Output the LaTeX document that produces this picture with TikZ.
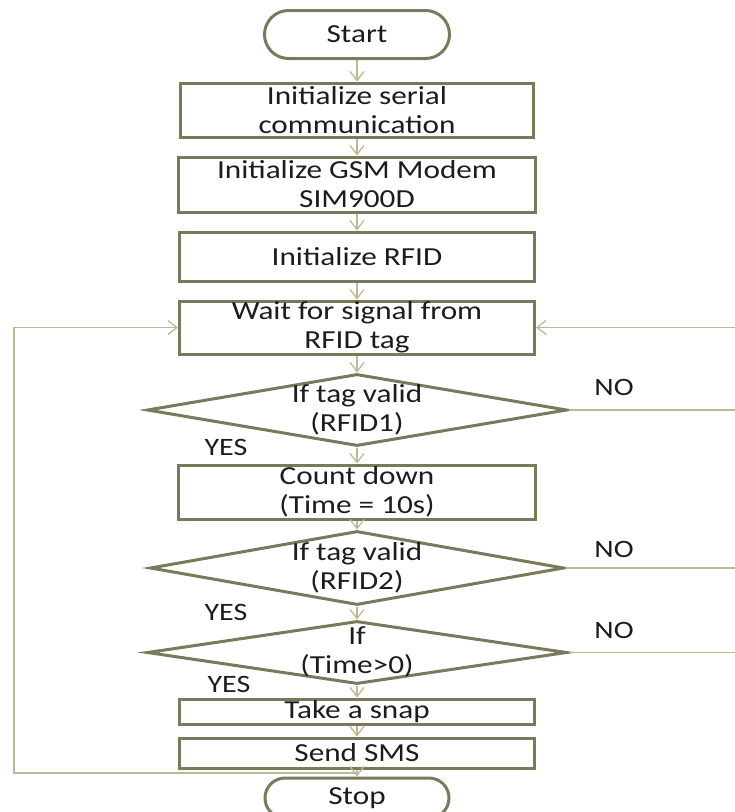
\documentclass[tikz,border=0pt]{standalone}
\usepackage{fontspec}
\setmainfont{Carlito}[FakeStretch=1.2]
\usepackage{tikz}
\usetikzlibrary{shapes.geometric,shapes.misc,arrows.meta}
\definecolor{boxline}{RGB}{122,121,92}
\definecolor{flowline}{RGB}{188,185,150}
\definecolor{txtgray}{RGB}{28,28,28}
\tikzset{
  proc/.style={draw=boxline,line width=3pt,rectangle,inner sep=0pt,align=center,
    text=txtgray,font=\fontsize{26}{29}\selectfont},
  term/.style={draw=boxline,line width=3pt,rounded rectangle,inner sep=0pt,
    text=txtgray,font=\fontsize{26}{29}\selectfont},
  decis/.style={draw=boxline,line width=3pt,diamond,inner sep=0pt},
  dtext/.style={inner sep=0pt,align=center,text=txtgray,font=\fontsize{26}{29}\selectfont},
  flow/.style={draw=flowline,line width=1.3pt,-{Straight Barb[length=9pt,width=14pt]}},
  flowplain/.style={draw=flowline,line width=1.6pt},
  ans/.style={inner sep=0pt,text=txtgray,font=\fontsize{25}{27}\selectfont}
}

\begin{document}
\begin{tikzpicture}[x=1pt,y=-1pt]
\useasboundingbox (0,0) rectangle (735,812);

% boxes
\node[term,minimum width=185pt,minimum height=48pt] (start) at (357,34.5) {Start};
\node[proc,minimum width=353pt,minimum height=54pt] (serial) at (357,110) {Initialize serial\\communication};
\node[proc,minimum width=357pt,minimum height=55pt] (gsm) at (357,184.5) {Initialize GSM Modem\\SIM900D};
\node[proc,minimum width=355pt,minimum height=49pt] (rfid) at (357,256.5) {Initialize RFID};
\node[proc,minimum width=355pt,minimum height=53pt] (wait) at (357,327.5) {Wait for signal from\\RFID tag};
\node[decis,minimum width=420pt,minimum height=72pt] (valid1) at (357,410) {};
\node[dtext] (valid1txt) at (valid1) {If tag valid\\(RFID1)};
\node[proc,minimum width=357pt,minimum height=54pt] (count) at (357,492) {Count down\\(Time = 10s)};
\node[decis,minimum width=414pt,minimum height=74pt] (valid2) at (357,568) {};
\node[dtext] (valid2txt) at (valid2) {If tag valid\\(RFID2)};
\node[decis,minimum width=420pt,minimum height=63pt] (timechk) at (357,652.5) {};
\node[dtext] (timechktxt) at ([yshift=1pt]timechk) {If\\(Time>0)};
\node[proc,minimum width=355pt,minimum height=25pt] (snap) at (357,711.5) {Take a snap};
\node[proc,minimum width=355pt,minimum height=30pt] (sms) at (357,753) {Send SMS};
\node[term,minimum width=184pt,minimum height=40pt] (stop) at (357,798) {Stop};

% yes / no
\node[ans] (yes1) at (226,447) {YES};
\node[ans] (yes2) at (226,612) {YES};
\node[ans] (yes3) at (229,684) {YES};
\node[ans] (no1) at (614,387) {NO};
\node[ans] (no2) at (614,549.5) {NO};
\node[ans] (no3) at (614,630) {NO};

% main flow
\draw[flow] (start) -- (serial);
\draw[flow] (serial) -- (gsm);
\draw[flow] (gsm) -- (rfid);
\draw[flow] (rfid) -- (wait);
\draw[flow] (wait) -- (valid1);
\draw[flow] (valid1) -- (count);
\draw[flow] (count) -- (valid2);
\draw[flow] (valid2) -- (timechk);
\draw[flow] (timechk) -- (snap);
\draw[flow] (snap) -- (sms);
\draw[flow] (sms) -- (stop);

% loops back
\coordinate (loopin) at (357,773);
\coordinate (loopcorner) at (14,773);
\coordinate (rightedge) at (735,327.5);
\draw[flow] (loopin) -- (loopcorner) |- (wait.west);
\draw[flow] (rightedge) -- (wait.east);
\draw[flowplain] (valid1.east) -- (valid1.east -| rightedge);
\draw[flowplain] (valid2.east) -- (valid2.east -| rightedge);
\draw[flowplain] (timechk.east) -- (timechk.east -| rightedge);

\end{tikzpicture}
\end{document}
